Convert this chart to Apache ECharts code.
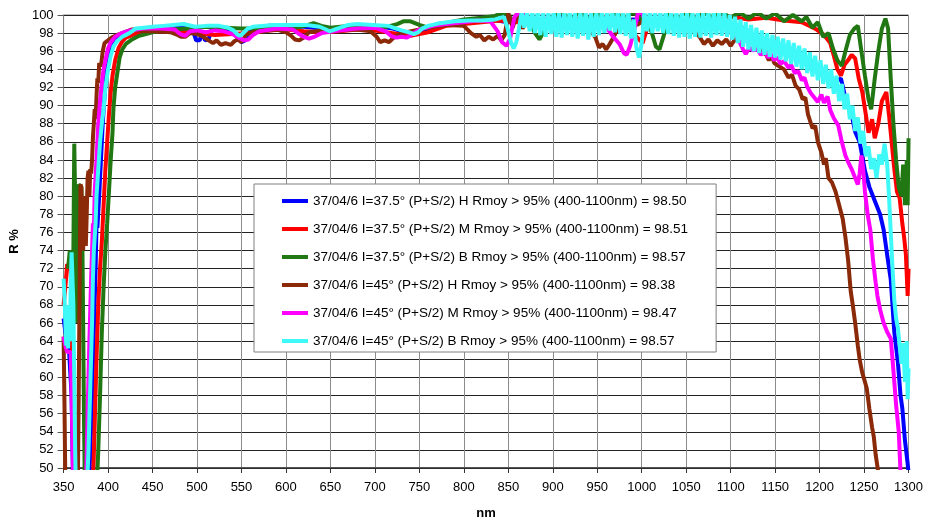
<!DOCTYPE html>
<html>
<head>
<meta charset="utf-8">
<script src="https://cdn.jsdelivr.net/npm/echarts@6/dist/echarts.min.js"></script>
<style>
html,body{margin:0;padding:0;background:#fff;}
#chart{width:926px;height:525px;}
</style>
</head>
<body>
<div id="chart"></div>
<script>
// Legend names
const seriesNames = [
  "37/04/6 I=37.5° (P+S/2) H Rmoy > 95% (400-1100nm) = 98.50",
  "37/04/6 I=37.5° (P+S/2) M Rmoy > 95% (400-1100nm) = 98.51",
  "37/04/6 I=37.5° (P+S/2) B Rmoy > 95% (400-1100nm) = 98.57",
  "37/04/6 I=45° (P+S/2) H Rmoy > 95% (400-1100nm) = 98.38",
  "37/04/6 I=45° (P+S/2) M Rmoy > 95% (400-1100nm) = 98.47",
  "37/04/6 I=45° (P+S/2) B Rmoy > 95% (400-1100nm) = 98.57"
];
const seriesColors = ["#0000ff", "#ff0000", "#217812", "#8b2a08", "#ff00ff", "#3ff8f8"];

// [nm, R %]
const blueH375 = [[350,66.5],[352,65],[354,64],[356,63.2],[358,63],[359,58],[360,52],[361,46],
[378,46],[380,52],[382,58],[384,65],[386,72],[387,76.8],[388,76.5],[390,80],[392,84],[394,88],[396,91],[398,93.5],[400,95],[403,96.5],[406,97.1],[410,97.5],[415,97.9],[420,98.1],[430,98.4],[440,98.5],[450,98.6],[460,98.7],[470,98.7],[480,98.6],[490,98.5],[496,98.1],[499,97.2],[503,97.2],[506,98.2],[509,97.2],[513,97.3],[516,98.3],[525,98.6],[535,98.4],[542,97.9],[547,97.3],[550,97.0],[554,97.2],[558,98.1],[565,98.6],[580,98.8],[600,98.8],[620,98.7],[640,98.5],[650,98.2],[660,98.4],[680,98.8],[700,98.8],[720,98.5],[735,98.1],[745,97.9],[755,98.3],[770,99.0],[790,99.2],[810,99.3],[830,99.5],[850,99.2],[870,99.6],[890,99.2],[910,99.7],[930,99.3],[950,99.6],[970,99.2],[990,99.5],[1010,99.3],[1030,99.6],[1050,99.2],[1070,99.5],[1090,99.0],[1110,98.8],[1130,97.5],[1150,96.8],[1170,95.8],[1185,95.0],[1202,93.6],[1215,92.5],[1224,93.0],[1230,90.4],[1236,89],[1240,87.1],[1245,86],[1251,82.8],[1256,81],[1262,79.5],[1268,78],[1272,76.3],[1276,73.5],[1280,70.8],[1284,65],[1288,61.7],[1291,58],[1293,56.6],[1296,53],[1299,50.5],[1300,49.5]];

const redM375 = [[350,68],[352,70],[354,72.5],[356,72.5],[358,72],[359,66],[360,58],[361,48],
[383,48],[385,55],[387,62],[389,68],[391,72],[393,75],[395,79],[397,83],[399,86],[401,89],[403,91.5],[405,93.3],[408,95],[412,96.4],[416,97.1],[420,97.5],[430,97.9],[440,98.1],[460,98.2],[480,98.2],[500,98.0],[520,97.8],[540,97.9],[560,98.0],[580,98.3],[600,98.4],[620,98.2],[640,98.1],[660,98.2],[680,98.4],[700,98.3],[720,98.0],[740,97.7],[760,98.1],[780,98.8],[800,99.0],[820,99.2],[840,99.4],[860,99.2],[880,99.6],[900,99.3],[920,99.7],[940,99.4],[960,99.8],[980,99.4],[995,97.5],[1001,96.9],[1006,98.5],[1020,99.6],[1040,99.3],[1060,99.7],[1080,99.4],[1100,99.8],[1120,99.5],[1140,99.7],[1160,99.4],[1180,99.2],[1195,98.5],[1205,97.8],[1212,96.9],[1216,95.5],[1220,94],[1224,93.3],[1228,94.5],[1232,95],[1236,95.6],[1240,95.2],[1244,93],[1248,91.5],[1252,89],[1255,87],[1259,88.5],[1262,86.4],[1266,88],[1270,90.5],[1275,91.5],[1278,89],[1281,86],[1284,83],[1287,80.5],[1290,79.8],[1293,77],[1295,75.5],[1297,73.6],[1299,69],[1300,72]];

const greenB375 = [[355,72],[357,74],[359,72],[360,69.5],[361,74],[362,85.8],[363,85.8],[364,74],[365,66],[366,74],[367,81.3],[369,81.3],[370,81],[371,76],[372,66],[373,55],[374,47],
[387,47],[389,52],[391,58],[393,65],[395,70],[397,74],[399,77],[401,80.5],[403,84],[405,87],[406,89.6],[408,92],[411,94],[413,95.3],[416,96.2],[420,96.8],[427,97.3],[435,97.7],[450,98.1],[470,98.4],[490,98.5],[510,98.7],[530,98.6],[550,98.5],[570,98.5],[590,98.7],[610,98.6],[625,98.9],[631,99.1],[640,98.8],[650,98.6],[670,98.8],[690,98.7],[710,98.6],[725,99.0],[732,99.3],[740,99.3],[750,98.9],[760,98.6],[770,98.9],[785,99.2],[800,99.5],[820,99.7],[835,99.9],[845,100.3],[855,99.5],[865,100.3],[875,99],[880,98],[885,97.3],[890,98.2],[900,99.8],[910,100.3],[920,99.5],[930,100.3],[940,99.6],[950,100.3],[960,99.4],[970,100.3],[980,99.6],[990,100.3],[1000,99.5],[1010,98.5],[1016,96.5],[1020,96.2],[1025,97.8],[1030,100.2],[1040,99.5],[1050,100.3],[1060,99.6],[1070,100.3],[1080,99.7],[1090,100.3],[1100,99.7],[1110,100.3],[1120,99.6],[1130,100.3],[1140,99.6],[1150,100.2],[1160,99.3],[1170,100],[1180,99.3],[1185,99.8],[1192,98.6],[1198,99.2],[1204,97.6],[1210,98],[1215,96.3],[1220,95],[1225,94.4],[1229,96],[1234,97.8],[1239,98.5],[1243,98.8],[1247,96],[1251,93.3],[1255,90.7],[1258,89.6],[1262,93],[1266,96],[1270,98.5],[1274,99.6],[1277,98.5],[1280,93],[1283,88],[1286,84],[1289,81],[1292,80],[1294,83.5],[1296,79],[1298,84],[1299,79],[1300,86.4]];

const brownH45 = [[350,64.5],[351,57],[352,48],
[366,48],[367,58],[368,70],[369,81.3],[370,81],[371,76],[372,74],[373,79],[374,80],[375,74.5],[376,78],[377,82],[378,82.8],[379,80],[380,83],[381,82.5],[382,84],[383,86.5],[384,88],[385,89.6],[386,88.5],[387,91],[388,93],[389,92.5],[390,94.7],[392,94.3],[394,96],[396,96.9],[398,97],[400,97.2],[404,97.5],[410,97.8],[416,98],[427,98.4],[440,98.2],[455,98.2],[470,98.1],[478,97.8],[482,97.6],[487,97.6],[492,98.0],[500,97.9],[507,97.6],[513,97.2],[518,96.9],[522,97.2],[527,96.7],[532,96.9],[538,96.7],[542,97.1],[546,97.3],[550,97.0],[555,97.8],[562,98.1],[575,98.2],[590,98.4],[600,98.1],[606,97.7],[610,97.3],[615,97.2],[620,97.5],[626,98.1],[640,98.3],[660,98.3],[680,98.4],[695,98.2],[702,97.6],[706,97.0],[711,97.2],[716,97.0],[722,97.6],[730,98.0],[745,98.3],[760,98.6],[780,98.9],[800,98.8],[808,98.0],[814,97.6],[818,97.8],[823,97.2],[828,97.6],[833,97.3],[838,97.7],[842,97.2],[846,97.8],[850,100.2],[855,98.6],[860,100.3],[866,98.5],[872,99.5],[880,98.8],[890,99.6],[900,98.8],[910,99.6],[920,98.9],[930,99.4],[940,98.6],[948,97.5],[952,96.4],[956,96.8],[960,96.2],[964,96.8],[968,97.5],[975,98.8],[985,99.6],[995,98.9],[1005,99.6],[1015,98.9],[1025,99.5],[1035,98.8],[1045,99.4],[1055,98.6],[1065,97.6],[1070,96.8],[1075,97.3],[1080,96.6],[1085,97.2],[1090,96.8],[1095,97.3],[1100,96.6],[1105,97.3],[1112,97.9],[1120,97.4],[1128,96.6],[1132,96.9],[1135,96.0],[1140,95.6],[1143,95.0],[1146,95.6],[1149,94.7],[1155,94.3],[1160,94.0],[1165,93.1],[1169,93.4],[1173,92.2],[1177,91.8],[1181,90.7],[1184,90.9],[1187,89],[1192,87.5],[1195,87.8],[1198,86],[1202,84.8],[1205,83.5],[1207,84.2],[1210,82],[1214,81.5],[1218,80.5],[1222,79],[1226,77.5],[1229,75.5],[1232,73],[1235,69.5],[1237,68.2],[1240,66],[1243,63.5],[1245,62],[1248,60.5],[1251,59.5],[1253,58.8],[1256,56.5],[1259,54.5],[1261,53.4],[1263,51.5],[1266,49.5]];

const magentaM45 = [[350,64.5],[352,63.5],[354,62.8],[356,63],[358,62.8],[359,58],[360,53],[361,47],
[375,47],[377,56],[379,64],[381,71],[382,74],[383,77],[384,76],[385,80.5],[387,84],[389,88],[391,90.5],[393,92.5],[395,94],[397,95],[400,96.3],[403,97.0],[408,97.6],[415,98.0],[425,98.3],[440,98.5],[460,98.5],[475,98.4],[481,97.9],[487,97.7],[492,98.2],[500,98.3],[510,98.1],[520,98.3],[530,98.2],[540,97.9],[547,97.5],[553,97.2],[558,97.3],[563,97.8],[570,98.2],[590,98.5],[608,98.4],[615,97.9],[620,97.6],[626,97.4],[632,97.6],[640,98.0],[660,98.3],[680,98.5],[700,98.6],[712,98.2],[718,97.7],[724,97.5],[730,97.6],[736,97.5],[742,97.9],[750,98.4],[765,98.8],[780,99.0],[800,99.2],[815,99.4],[830,99.3],[838,98.2],[843,97.0],[848,96.6],[852,97.4],[857,99.8],[862,100.3],[868,100.3],[873,99.5],[880,99.2],[890,99.7],[900,98.9],[910,99.5],[920,98.8],[930,99.5],[940,98.9],[950,99.4],[960,98.7],[968,97.6],[975,96.8],[980,95.8],[983,95.6],[987,96.6],[992,98.5],[996,100.3],[1000,100.3],[1005,99],[1015,99.6],[1025,98.9],[1035,99.5],[1045,98.8],[1055,99.4],[1065,98.7],[1075,99.3],[1085,98.6],[1095,98.9],[1105,98.0],[1110,97.0],[1114,96.2],[1117,95.7],[1121,96.4],[1125,96.1],[1130,96.2],[1134,95.6],[1138,96.0],[1142,95.3],[1145,95.7],[1149,95.0],[1152,95.4],[1156,94.6],[1160,94.9],[1165,94.2],[1168,94.5],[1172,93.6],[1176,93.8],[1180,92.8],[1183,93.1],[1186,92.1],[1190,91.4],[1194,90.9],[1198,90.4],[1202,91.2],[1205,90.3],[1209,91.0],[1212,89.5],[1216,88.6],[1221,87.8],[1225,86],[1229,84.5],[1232,83.8],[1236,83.0],[1240,82],[1243,81.3],[1245,82.5],[1247,84.5],[1249,83],[1251,80.5],[1254,78],[1257,76.3],[1260,73],[1263,70.5],[1265,69],[1268,67.5],[1272,66],[1276,65],[1280,64.3],[1282,62],[1284,59.5],[1286,57],[1288,55],[1289,54],[1291,49.5]];

const cyanB45 = [[350,70.9],[351,69],[352,66],[353,63.5],[354,65],[355,63.2],[356,68],[357,64],[358,70],[359,73.8],[360,73.8],[361,68],[362,60],[363,52],[364,47],
[376,47],[378,52],[380,59],[382,66],[383,71],[384,74],[386,77],[387,80],[389,83],[391,86],[393,88],[395,89.6],[397,92],[400,94],[403,95.5],[406,96.5],[410,97.1],[416,97.6],[424,98.0],[431,98.5],[440,98.6],[450,98.7],[462,98.8],[473,98.9],[485,99.0],[498,98.7],[511,98.8],[525,98.8],[535,98.6],[541,98.3],[545,97.9],[548,97.7],[552,98.0],[557,98.5],[563,98.7],[586,98.9],[605,98.9],[623,98.9],[638,98.7],[645,98.4],[649,98.2],[655,98.4],[661,98.6],[670,98.9],[680,99.0],[698,98.9],[715,98.8],[724,98.5],[730,98.3],[738,98.1],[744,97.9],[749,98.1],[753,98.5],[760,98.8],[773,99.1],[790,99.3],[805,99.4],[820,99.4],[835,99.5],[845,99.8],[849,98.6],[853,97.0],[856,96.3],[859,97.0],
[862,98.5],[865,100.3],[868,98.6],[871,100.3],[874,98.2],[877,100.3],[880,98.0],[883,100.3],[886,97.8],[889,100.3],[892,97.6],[895,100.3],[898,97.9],[901,100.3],[904,97.6],[907,100.3],[910,97.5],[913,100.3],[916,97.8],[919,100.3],[922,97.6],[925,100.3],[928,97.4],[931,100.3],[934,97.7],[937,100.3],[940,97.3],[943,100.3],[946,97.6],[949,100.3],[952,97.8],[955,100.3],[958,98.0],[961,100.3],[964,98.3],[967,100.3],[970,98.1],[973,100.3],[976,97.9],[979,100.3],[982,97.7],[985,100.3],[988,97.4],[991,99.5],[994,96.4],[997,95.3],[1000,96.9],[1003,100.3],[1006,98.2],[1009,100.3],[1012,98.0],[1015,100.3],[1018,98.2],[1021,100.3],[1024,98.0],[1027,100.3],[1030,97.9],[1033,100.3],[1036,97.7],[1039,100.3],[1042,97.5],[1045,100.3],[1048,97.6],[1051,100.3],[1054,97.4],[1057,100.3],[1060,97.6],[1063,100.3],[1066,97.5],[1069,100.3],[1072,97.7],[1075,100.3],[1078,97.5],[1081,100.3],[1084,97.8],[1087,100.3],[1090,97.7],[1093,100.2],[1096,97.6],[1099,100.0],
[1102,97.3],[1105,99.8],[1108,96.9],[1111,99.5],[1114,96.5],[1117,99.2],[1120,96.2],[1123,98.9],[1126,96.0],[1129,98.6],[1132,95.8],[1135,98.3],[1138,95.6],[1141,98.0],[1144,95.4],[1147,97.8],[1150,95.3],[1153,97.6],[1156,95.1],[1159,97.4],[1162,94.9],[1165,97.2],[1168,94.6],[1171,96.9],[1174,94.3],[1177,96.6],[1180,94.0],[1183,96.3],[1186,93.6],[1189,95.9],[1192,93.2],[1195,95.5],[1198,92.8],[1201,95.0],[1204,92.4],[1207,94.5],[1210,91.9],[1213,94.0],[1216,91.3],[1219,93.3],[1222,90.5],[1225,92.4],[1228,89.6],[1231,91.3],[1234,88.5],[1237,90.0],[1240,87.2],[1243,88.7],[1246,85.8],[1249,87.2],[1252,84.4],[1255,85.5],[1258,83.0],[1261,84.2],[1264,82.0],[1267,84.6],[1270,83.5],[1273,85.8],[1276,83.5],[1278,80],[1280,76],[1282,72],[1284,68.5],[1286,66.5],[1288,65.5],[1290,63.5],[1292,61.5],[1294,63.8],[1296,59.5],[1298,64],[1299,57.6],[1300,61]];

const allData = [blueH375, redM375, greenB375, brownH45, magentaM45, cyanB45];

const FONT = 'Arial, "Liberation Sans", sans-serif';
const chart = echarts.init(document.getElementById('chart'), null, {renderer: 'canvas'});
chart.setOption({
  animation: false,
  backgroundColor: '#fff',
  grid: {left: 63, right: 16, top: 15, bottom: 51, show: true, borderColor: '#808080', borderWidth: 1, backgroundColor: 'transparent'},
  legend: {
    orient: 'vertical', left: 254, top: 184,
    backgroundColor: '#fff', borderColor: '#808080', borderWidth: 1,
    padding: [10, 28, 4, 28], itemGap: 14,
    itemWidth: 26, itemHeight: 4, icon: 'rect',
    textStyle: {fontFamily: FONT, fontSize: 13.5, color: '#000'},
    data: seriesNames
  },
  xAxis: {
    type: 'value', min: 350, max: 1300, interval: 50,
    name: 'nm', nameLocation: 'middle', nameGap: 39,
    nameTextStyle: {fontFamily: FONT, fontSize: 13, fontWeight: 'bold', color: '#000'},
    axisLine: {show: true, onZero: false, lineStyle: {color: '#333', width: 1.5}},
    axisTick: {show: true, length: 5, lineStyle: {color: '#333'}},
    axisLabel: {fontFamily: FONT, fontSize: 13, color: '#000', margin: 13, formatter: v => String(v)},
    splitLine: {show: true, lineStyle: {color: '#8c8c8c', width: 1}}
  },
  yAxis: {
    type: 'value', min: 50, max: 100, interval: 2,
    name: 'R %', nameLocation: 'middle', nameGap: 37, nameRotate: 90,
    nameTextStyle: {fontFamily: FONT, fontSize: 13, fontWeight: 'bold', color: '#000'},
    axisLine: {show: true, lineStyle: {color: '#808080', width: 1}},
    axisTick: {show: true, length: 6, lineStyle: {color: '#555'}},
    axisLabel: {fontFamily: FONT, fontSize: 13, color: '#000', margin: 10},
    splitLine: {show: true, lineStyle: {color: '#222', width: 1}}
  },
  series: allData.map((d, i) => ({
    name: seriesNames[i], type: 'line', data: d,
    showSymbol: false, symbol: 'none', clip: true,
    color: seriesColors[i],
    lineStyle: {color: seriesColors[i], width: 4, join: 'bevel'},
    itemStyle: {color: seriesColors[i]},
    emphasis: {disabled: true}
  }))
});
</script>
</body>
</html>
